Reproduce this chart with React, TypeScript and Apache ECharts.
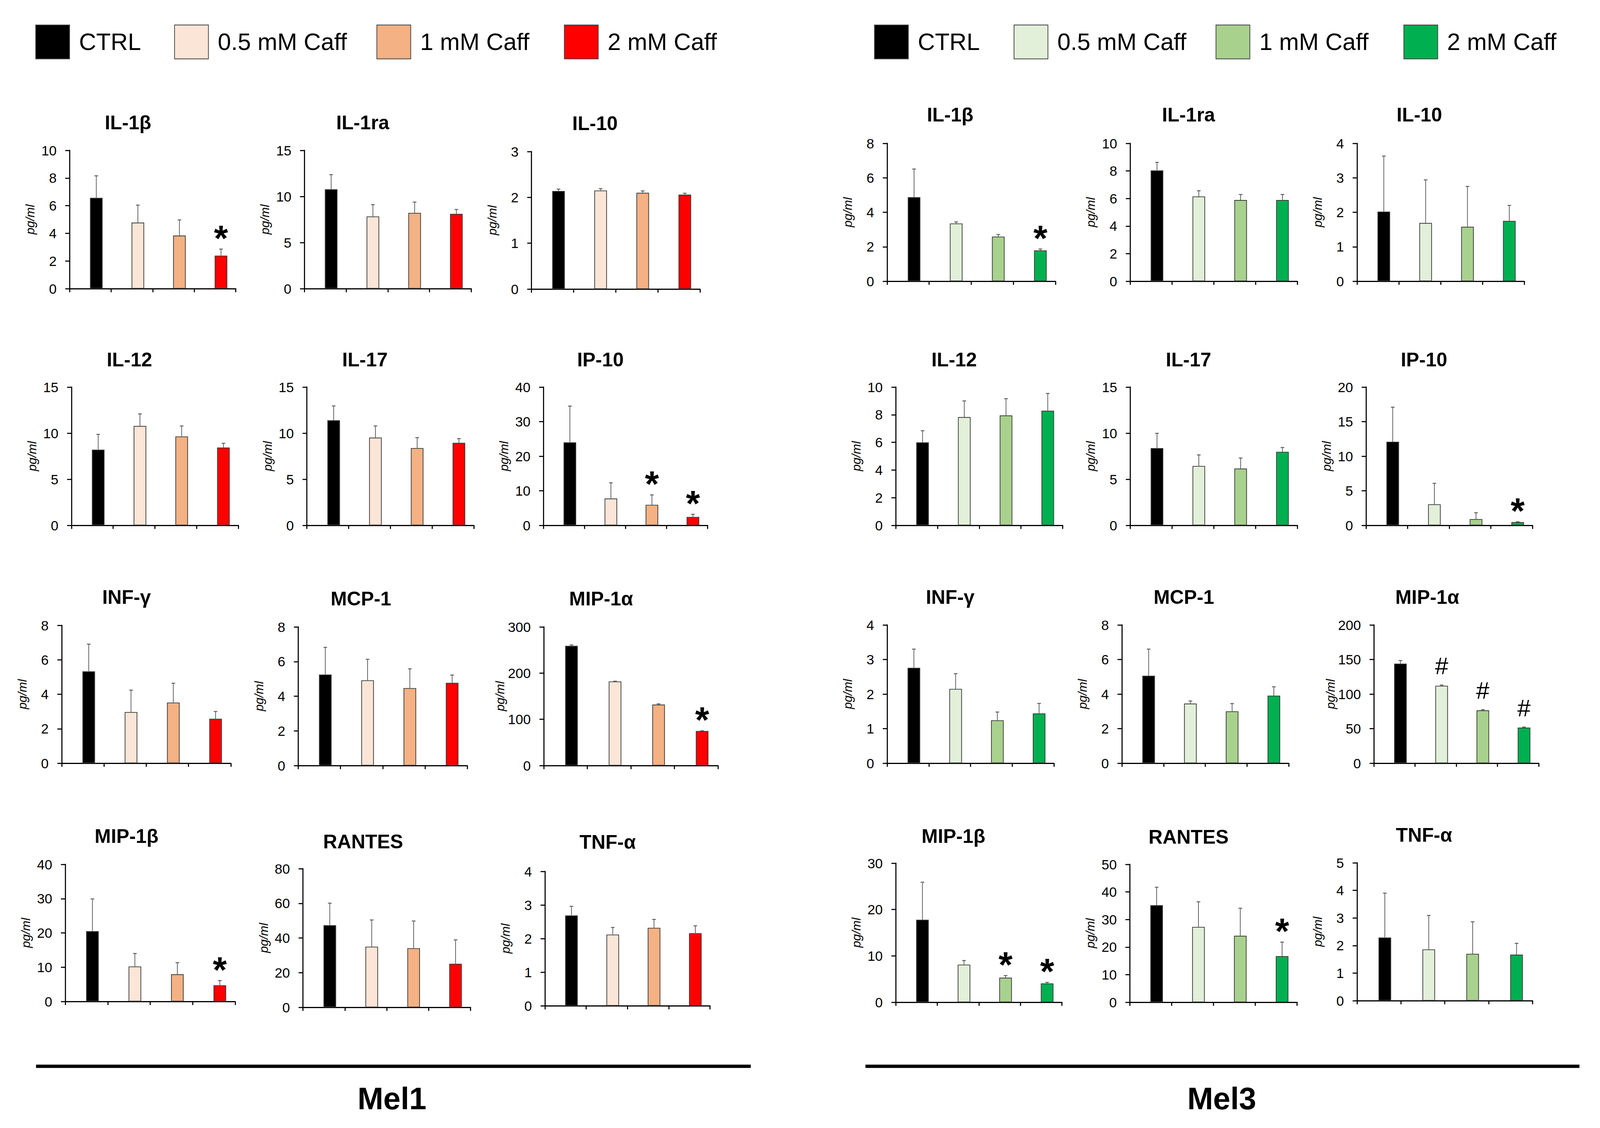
import React, { useEffect, useRef } from "react";
import * as echarts from "echarts";

// ---------- data ----------
const groups = ["CTRL", "0.5 mM Caff", "1 mM Caff", "2 mM Caff"];
const mel1Colors = ["#000000", "#FBE5D6", "#F4B183", "#FF0000"];
const mel3Colors = ["#000000", "#E2F0D9", "#A9D18E", "#00B050"];

const cytokines = ["IL-1β", "IL-1ra", "IL-10", "IL-12", "IL-17", "IP-10", "INF-γ", "MCP-1", "MIP-1α", "MIP-1β", "RANTES", "TNF-α"];

const mel1AxisMax = [10, 15, 3, 15, 15, 40, 8, 8, 300, 40, 80, 4];
const mel1AxisStep = [2, 5, 1, 5, 5, 10, 2, 2, 100, 10, 20, 1];
const mel1Means = [
  [6.57, 4.78, 3.84, 2.39],
  [10.78, 7.83, 8.22, 8.11],
  [2.14, 2.15, 2.1, 2.06],
  [8.21, 10.78, 9.64, 8.44],
  [11.4, 9.52, 8.38, 8.95],
  [24.0, 7.76, 5.93, 2.43],
  [5.33, 2.97, 3.52, 2.58],
  [5.25, 4.92, 4.47, 4.77],
  [259, 182, 132, 74.7],
  [20.5, 10.2, 7.94, 4.73],
  [47.4, 35.0, 34.1, 25.1],
  [2.69, 2.12, 2.32, 2.16],
];
const mel1Errors = [
  [1.59, 1.26, 1.13, 0.47],
  [1.59, 1.28, 1.17, 0.48],
  [0.04, 0.04, 0.04, 0.03],
  [1.66, 1.31, 1.14, 0.46],
  [1.55, 1.26, 1.14, 0.46],
  [10.5, 4.54, 2.87, 0.77],
  [1.58, 1.27, 1.12, 0.42],
  [1.57, 1.21, 1.11, 0.45],
  [2, 0.5, 1.5, 0.5],
  [9.4, 3.8, 3.36, 1.37],
  [12.7, 15.4, 15.7, 13.8],
  [0.27, 0.21, 0.25, 0.22],
];
const mel1Marks = [
  ["", "", "", "*"],
  ["", "", "", ""],
  ["", "", "", ""],
  ["", "", "", ""],
  ["", "", "", ""],
  ["", "", "*", "*"],
  ["", "", "", ""],
  ["", "", "", ""],
  ["", "", "", "*"],
  ["", "", "", "*"],
  ["", "", "", ""],
  ["", "", "", ""],
];

const mel3AxisMax = [8, 10, 4, 10, 15, 20, 4, 8, 200, 30, 50, 5];
const mel3AxisStep = [2, 2, 1, 2, 5, 5, 1, 2, 50, 10, 10, 1];
const mel3Means = [
  [4.88, 3.35, 2.59, 1.79],
  [8.04, 6.15, 5.89, 5.89],
  [2.02, 1.69, 1.58, 1.75],
  [6.0, 7.83, 7.95, 8.29],
  [8.38, 6.44, 6.16, 7.98],
  [12.09, 3.04, 0.91, 0.46],
  [2.76, 2.15, 1.24, 1.44],
  [5.06, 3.45, 3.0, 3.91],
  [144, 112, 76.5, 51.5],
  [17.8, 8.12, 5.3, 4.06],
  [35.2, 27.3, 24.1, 16.7],
  [2.29, 1.86, 1.7, 1.67],
];
const mel3Errors = [
  [1.63, 0.09, 0.12, 0.08],
  [0.58, 0.41, 0.4, 0.4],
  [1.61, 1.25, 1.17, 0.45],
  [0.84, 1.17, 1.21, 1.25],
  [1.6, 1.2, 1.14, 0.46],
  [5.0, 3.04, 0.91, 0.06],
  [0.54, 0.44, 0.24, 0.29],
  [1.54, 0.15, 0.45, 0.51],
  [4.5, 1, 0.8, 0.8],
  [8.1, 0.88, 0.45, 0.23],
  [6.5, 9.1, 10.0, 5.1],
  [1.61, 1.23, 1.16, 0.41],
];
const mel3Marks = [
  ["", "", "", "*"],
  ["", "", "", ""],
  ["", "", "", ""],
  ["", "", "", ""],
  ["", "", "", ""],
  ["", "", "", "*"],
  ["", "", "", ""],
  ["", "", "", ""],
  ["", "#", "#", "#"],
  ["", "", "*", "*"],
  ["", "", "", "*"],
  ["", "", "", ""],
];

const cellLines = ["Mel1", "Mel3"];

// ---------- layout (reference pixels, 4437 x 2888) ----------
// [axisX, rightX, topY, bottomY, titleCenterX, titleCenterY]
const mel1Boxes = [
  [193, 654, 385, 739, 355, 314],
  [844, 1307, 385, 739, 1006, 314],
  [1474, 1941, 388, 740, 1650, 316],
  [198, 661, 991, 1345, 359, 921],
  [851, 1314, 991, 1345, 1012, 921],
  [1507, 1962, 991, 1345, 1665, 921],
  [171, 640, 1601, 1954, 351, 1529],
  [827, 1296, 1605, 1960, 1001, 1533],
  [1508, 1991, 1605, 1960, 1667, 1533],
  [181, 652, 2213, 2564, 351, 2141],
  [840, 1305, 2224, 2579, 1007, 2155],
  [1511, 1969, 2231, 2575, 1685, 2156],
];
const mel3Boxes = [
  [2460, 2927, 367, 720, 2635, 294],
  [3134, 3598, 367, 720, 3296, 294],
  [3763, 4227, 367, 720, 3936, 294],
  [2484, 2947, 991, 1345, 2646, 921],
  [3134, 3598, 991, 1345, 3296, 921],
  [3788, 4250, 991, 1345, 3949, 921],
  [2460, 2923, 1600, 1954, 2635, 1529],
  [3111, 3574, 1600, 1954, 3283, 1529],
  [3810, 4267, 1600, 1954, 3958, 1529],
  [2484, 2945, 2210, 2566, 2644, 2141],
  [3133, 3597, 2213, 2566, 3296, 2143],
  [3763, 4250, 2209, 2562, 3949, 2138],
];
const legendSwatchX = [[99, 484, 1045, 1565], [2425, 2812, 3372, 3893]];
const legendY = 64;
const bottomLines = [[100, 2082], [2400, 4380]];
const bottomLabelX = [1087, 3388];

const REF_W = 4437;
const REF_H = 2888;
const FONT = '"Liberation Sans", Arial, sans-serif';

function buildOption(W: number, H: number) {
  const sx = W / REF_W;
  const sy = H / REF_H;
  const s = Math.min(sx, sy);
  const X = (v: number) => v * sx;
  const Y = (v: number) => v * sy;
  const S = (v: number) => v * s;

  const BAR_W = S(35);
  const BAR_GAP = -0.06;
  const BAR_SHIFT = (BAR_W + BAR_W * BAR_GAP) / 2;

  const grid: any[] = [];
  const xAxis: any[] = [];
  const yAxis: any[] = [];
  const series: any[] = [];
  const graphic: any[] = [];

  const sides = [
    { boxes: mel1Boxes, means: mel1Means, errs: mel1Errors, marks: mel1Marks, max: mel1AxisMax, step: mel1AxisStep, colors: mel1Colors },
    { boxes: mel3Boxes, means: mel3Means, errs: mel3Errors, marks: mel3Marks, max: mel3AxisMax, step: mel3AxisStep, colors: mel3Colors },
  ];

  const centerText = (text: string, x: number, y: number, size: number, weight: string) => ({
    type: "text",
    x,
    y,
    style: {
      text,
      fill: "#000",
      fontSize: size,
      fontWeight: weight,
      fontFamily: FONT,
      align: "center",
      verticalAlign: "middle",
      textAlign: "center",
      textVerticalAlign: "middle",
    },
  });

  sides.forEach((side, si) => {
    side.boxes.forEach((b, p) => {
      const k = si * 12 + p;
      const [x0, x1, y0, y1, tx, ty] = b;
      grid.push({ left: X(x0), top: Y(y0), width: X(x1) - X(x0), height: Y(y1) - Y(y0), containLabel: false });
      xAxis.push({
        gridIndex: k,
        type: "category",
        data: groups,
        axisLabel: { show: false },
        axisLine: { show: true, lineStyle: { color: "#000", width: S(3) } },
        axisTick: { show: true, length: S(10), lineStyle: { color: "#000", width: S(3) } },
        splitLine: { show: false },
      });
      yAxis.push({
        gridIndex: k,
        type: "value",
        min: 0,
        max: side.max[p],
        interval: side.step[p],
        axisLine: { show: true, lineStyle: { color: "#000", width: S(3) } },
        axisTick: { show: true, length: S(12), lineStyle: { color: "#000", width: S(3) } },
        axisLabel: { fontSize: S(38), color: "#000", margin: S(36), fontFamily: FONT },
        splitLine: { show: false },
        name: "pg/ml",
        nameLocation: "middle",
        nameGap: S(92),
        nameRotate: 90,
        nameTextStyle: { fontStyle: "italic", fontSize: S(34), color: "#000", fontFamily: FONT },
      });
      const means = side.means[p];
      const errs = side.errs[p];
      const marks = side.marks[p];
      series.push({
        type: "bar",
        xAxisIndex: k,
        yAxisIndex: k,
        data: ["-", "-", "-", "-"],
        barWidth: BAR_W,
        barGap: BAR_GAP * 100 + "%",
        silent: true,
      });
      series.push({
        type: "bar",
        name: cellLines[si] + " " + cytokines[p],
        xAxisIndex: k,
        yAxisIndex: k,
        barWidth: BAR_W,
        barGap: BAR_GAP * 100 + "%",
        data: means.map((v, i) => ({ value: v, itemStyle: { color: side.colors[i] } })),
        itemStyle: { borderColor: "#3a3a3a", borderWidth: S(2) },
        z: 2,
      });
      series.push({
        type: "custom",
        xAxisIndex: k,
        yAxisIndex: k,
        z: 5,
        silent: true,
        data: means.map((m, i) => [i, m, m + errs[i]]),
        encode: { x: 0, y: [1, 2] },
        renderItem: (params: any, api: any) => {
          const idx = params.dataIndex;
          const base = api.coord([api.value(0), api.value(1)]);
          const top = api.coord([api.value(0), api.value(2)]);
          const x = base[0] + BAR_SHIFT;
          const children: any[] = [
            { type: "line", shape: { x1: x, y1: base[1], x2: x, y2: top[1] }, style: { stroke: "#595959", lineWidth: S(2) } },
            { type: "line", shape: { x1: x - S(5), y1: top[1], x2: x + S(5), y2: top[1] }, style: { stroke: "#595959", lineWidth: S(2.5) } },
          ];
          const mk = marks[idx];
          if (mk) {
            const star = mk === "*";
            children.push(centerText(mk, x, top[1] - S(star ? 30 : 53), S(star ? 100 : 66), star ? "bold" : "normal"));
          }
          return { type: "group", children };
        },
      });
      graphic.push(centerText(cytokines[p], X(tx), Y(ty), S(54), "bold"));
    });

    // legend
    legendSwatchX[si].forEach((lx, i) => {
      graphic.push({
        type: "rect",
        shape: { x: X(lx), y: Y(legendY), width: S(94), height: S(94) },
        style: { fill: side.colors[i], stroke: "#404040", lineWidth: S(2) },
      });
      graphic.push({
        type: "text",
        x: X(lx) + S(94 + 26),
        y: Y(legendY) + S(47),
        style: {
          text: groups[i],
          fill: "#000",
          fontSize: S(66),
          fontFamily: FONT,
          align: "left",
          verticalAlign: "middle",
          textAlign: "left",
          textVerticalAlign: "middle",
        },
      });
    });

    // bottom line and cell-line label
    graphic.push({
      type: "line",
      shape: { x1: X(bottomLines[si][0]), y1: Y(2730), x2: X(bottomLines[si][1]), y2: Y(2730) },
      style: { stroke: "#000", lineWidth: S(9) },
    });
    graphic.push(centerText(cellLines[si], X(bottomLabelX[si]), Y(2812), S(86), "bold"));
  });

  return {
    animation: false,
    backgroundColor: "#ffffff",
    textStyle: { fontFamily: FONT },
    grid,
    xAxis,
    yAxis,
    series,
    graphic,
  };
}

export default function App() {
  const ref = useRef<HTMLDivElement>(null);
  useEffect(() => {
    const el = ref.current;
    if (!el) return;
    const W = el.clientWidth || window.innerWidth;
    const H = el.clientHeight || window.innerHeight;
    const chart = echarts.init(el, undefined, { renderer: "svg", width: W, height: H });
    chart.setOption(buildOption(W, H) as any);
    return () => chart.dispose();
  }, []);
  return (
    <div
      ref={ref}
      style={{ position: "fixed", left: 0, top: 0, width: "100vw", height: "100vh", background: "#fff", overflow: "hidden" }}
    />
  );
}
